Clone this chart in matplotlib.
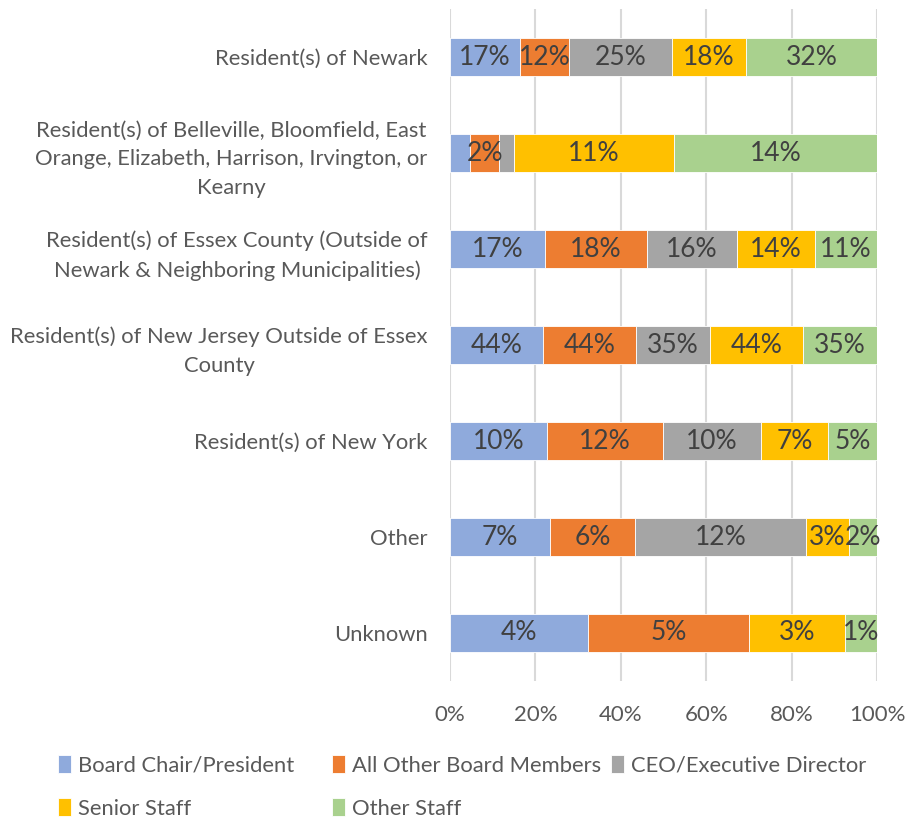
import numpy as np
import matplotlib
matplotlib.use("Agg")
import matplotlib.pyplot as plt

plt.rcParams['font.family'] = ['Lato', 'DejaVu Sans']

categories = [
    "Resident(s) of Newark",
    "Resident(s) of Belleville, Bloomfield, East\nOrange, Elizabeth, Harrison, Irvington, or\nKearny",
    "Resident(s) of Essex County (Outside of\nNewark & Neighboring Municipalities)",
    "Resident(s) of New Jersey Outside of Essex\nCounty",
    "Resident(s) of New York",
    "Other",
    "Unknown",
]
series = ["Board Chair/President", "All Other Board Members", "CEO/Executive Director",
          "Senior Staff", "Other Staff"]
colors = ["#8FAADC", "#ED7D31", "#A5A5A5", "#FFC000", "#A9D18E"]

# percent of respondents per group (labels show these, bars are normalised to 100%)
board_chair = [17, 1.4, 17, 44, 10, 7, 4.3]
other_board = [12, 2, 18, 44, 12, 6, 5]
ceo = [25, 1, 16, 35, 10, 12, 0]
senior_staff = [18, 11, 14, 44, 7, 3, 3]
other_staff = [32, 14, 11, 35, 5, 2, 1]

data = np.array([board_chair, other_board, ceo, senior_staff, other_staff], dtype=float)
totals = data.sum(axis=0)
shares = data / totals

fig = plt.figure(figsize=(9.17, 8.19), dpi=100)
ax = fig.add_axes([0.4907, 0.1685, 0.4657, 0.8205])

y = np.arange(len(categories))
left = np.zeros(len(categories))
handles = []
for i, name in enumerate(series):
    bars = ax.barh(y, shares[i], left=left, height=0.4, color=colors[i],
                   edgecolor='white', linewidth=0.6, label=name, zorder=3)
    handles.append(bars)
    for j in range(len(categories)):
        if shares[i, j] >= 0.05:
            ax.text(left[j] + shares[i, j] / 2, y[j], "%d%%" % round(data[i, j]),
                    ha='center', va='center', fontsize=19, color='#404040', zorder=4)
    left += shares[i]

ax.set_ylim(len(categories) - 0.5, -0.5)
ax.set_xlim(0, 1)
ax.set_yticks(y)
ax.set_yticklabels(categories)
for lbl in ax.get_yticklabels():
    lbl.set_multialignment('center')
    lbl.set_linespacing(1.55)
ax.set_xticks(np.arange(0, 1.01, 0.2))
ax.set_xticklabels(["%d%%" % v for v in range(0, 101, 20)])
ax.tick_params(axis='y', length=0, pad=16, labelsize=15.8, labelcolor='#595959')
ax.tick_params(axis='x', length=0, pad=17, labelsize=16, labelcolor='#595959')
ax.grid(axis='x', color='#D9D9D9', linewidth=1.5, zorder=0)
for s in ax.spines.values():
    s.set_visible(False)

# Excel lays the legend out in equal-width columns, rows first
legend_cols = [[0, 3], [1, 4], [2]]
col_x = [58, 332, 611]
for cols, x in zip(legend_cols, col_x):
    leg = fig.legend([handles[k] for k in cols], [series[k] for k in cols],
                     loc='upper left', bbox_to_anchor=(x / 917, 0.078),
                     frameon=False, fontsize=15.8, handlelength=0.6, handleheight=0.9,
                     handletextpad=0.3, labelspacing=1.02,
                     borderaxespad=0, borderpad=0)
    for t in leg.get_texts():
        t.set_color('#595959')

fig.savefig("out.png", dpi=100)
